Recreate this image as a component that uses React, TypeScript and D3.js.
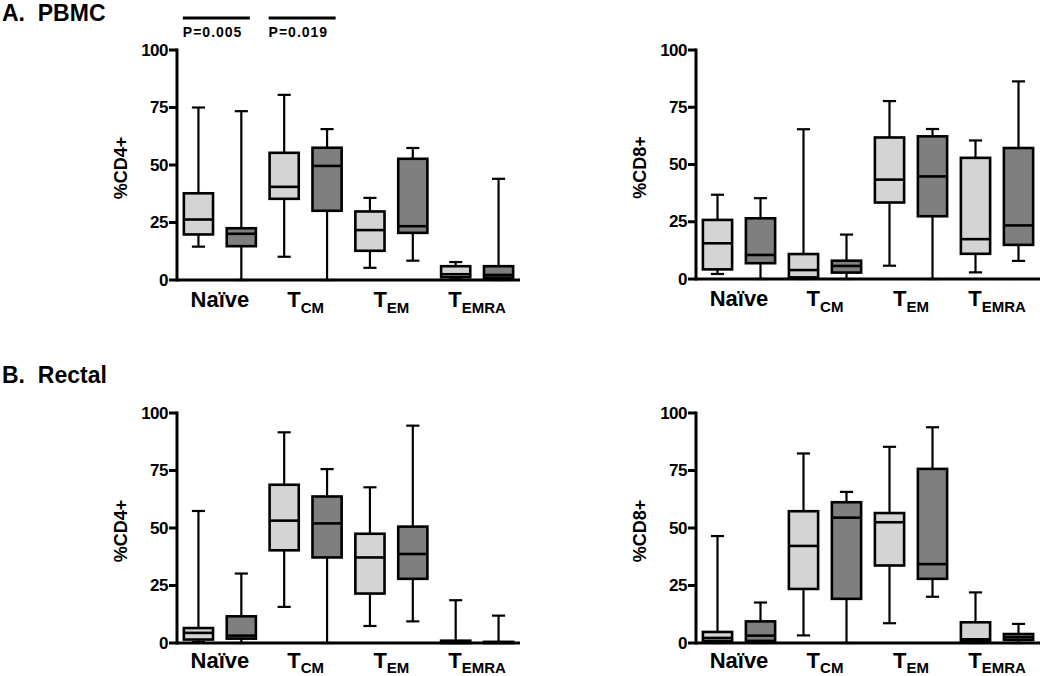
import React from "react";
import * as d3 from "d3";

// Each box: [min, q1, median, q3, max]; order: Naïve(light,dark), TCM(light,dark), TEM(light,dark), TEMRA(light,dark)
const categories = ["Naïve", "CM", "EM", "EMRA"];
const yTicks = [0, 25, 50, 75, 100];

const pbmcCD4 = [
  [14.5, 19.8, 26.3, 37.7, 75],
  [0, 14.7, 20.1, 22.5, 73.4],
  [10.1, 35.3, 40.5, 55.3, 80.5],
  [0, 30.1, 49.6, 57.5, 65.6],
  [5.3, 12.7, 21.7, 29.8, 35.7],
  [8.4, 20.5, 23.4, 52.7, 57.4],
  [0.3, 1.2, 2.5, 6, 7.8],
  [0, 1, 2.2, 6, 44],
];
const pbmcCD8 = [
  [2.2, 4.2, 15.6, 25.8, 36.8],
  [0, 6.9, 10.5, 26.5, 35.3],
  [0, 0.7, 3.9, 10.9, 65.4],
  [0, 2.8, 5.7, 8, 19.4],
  [5.8, 33.4, 43.4, 61.8, 77.7],
  [0, 27.4, 44.8, 62.3, 65.5],
  [2.9, 11, 17.4, 52.9, 60.5],
  [7.9, 14.9, 23.4, 57.2, 86.3],
];
const rectalCD4 = [
  [0.4, 1.5, 4.4, 6.5, 57.4],
  [0, 1.9, 3.2, 11.6, 30.2],
  [15.7, 40.3, 53.2, 68.8, 91.6],
  [0, 37.2, 52, 63.7, 75.6],
  [7.4, 21.5, 37.2, 47.5, 67.7],
  [9.4, 27.9, 38.7, 50.6, 94.5],
  [0, 0, 0.3, 1, 18.6],
  [0, 0, 0.2, 0.5, 11.9],
];
const rectalCD8 = [
  [0, 0.9, 2.2, 4.8, 46.5],
  [0, 0.9, 3.2, 9.4, 17.6],
  [3.3, 23.5, 42.2, 57.3, 82.4],
  [0, 19.2, 54.5, 61.2, 65.7],
  [8.6, 33.7, 52.5, 56.5, 85.3],
  [20.1, 27.9, 34.3, 75.7, 93.8],
  [0, 0.9, 1.6, 9, 22],
  [0, 1.3, 2.5, 3.9, 8.3],
];
const groupColors = ["#d4d4d4", "#7f7f7f"];
const pValues = ["P=0.005", "P=0.019"];

const FONT = "'Liberation Sans', Arial, sans-serif";

type PanelProps = {
  data: number[][];
  x0: number;
  x1: number;
  yTop: number;
  yBottom: number;
  yLabel: string;
  labelOffset: number;
  subDy: number;
  showP?: boolean;
};

function Panel({ data, x0, x1, yTop, yBottom, yLabel, labelOffset, subDy, showP }: PanelProps) {
  const x = d3
    .scaleBand<number>()
    .domain(d3.range(data.length))
    .range([x0, x1]);
  const y = d3.scaleLinear().domain([0, 100]).range([yBottom, yTop]);
  const bw = x.bandwidth();
  const boxW = bw * 0.68;
  const capW = boxW * 0.45;

  return (
    <g fontFamily={FONT} fontWeight="bold">
      {/* axes */}
      <line x1={x0} x2={x0} y1={y(100) - 1.5} y2={y(0) + 1.5} stroke="#000" strokeWidth={3} />
      <line x1={x0} x2={x1} y1={y(0)} y2={y(0)} stroke="#000" strokeWidth={3} />
      {yTicks.map((t) => (
        <g key={t}>
          <line x1={x0 - 8} x2={x0} y1={y(t)} y2={y(t)} stroke="#000" strokeWidth={3} />
          <text
            x={x0 - 9}
            y={y(t)}
            textAnchor="end"
            dominantBaseline="central"
            fontSize={17}
            letterSpacing={-0.5}
          >
            {t}
          </text>
        </g>
      ))}
      <text
        transform={`translate(${x0 - 50},${(y(0) + y(100)) / 2 + 3}) rotate(-90)`}
        textAnchor="middle"
        fontSize={18}
      >
        {yLabel}
      </text>
      {/* boxes */}
      {data.map((d, i) => {
        const cx = (x(i) as number) + bw / 2;
        const [mn, q1, md, q3, mx] = d;
        return (
          <g key={i}>
            <line x1={cx} x2={cx} y1={y(mx)} y2={y(q3)} stroke="#000" strokeWidth={2.2} />
            <line x1={cx} x2={cx} y1={y(q1)} y2={y(mn)} stroke="#000" strokeWidth={2.2} />
            <line x1={cx - capW / 2} x2={cx + capW / 2} y1={y(mx)} y2={y(mx)} stroke="#000" strokeWidth={2.2} />
            <line x1={cx - capW / 2} x2={cx + capW / 2} y1={y(mn)} y2={y(mn)} stroke="#000" strokeWidth={2.2} />
            <rect
              x={cx - boxW / 2}
              y={y(q3)}
              width={boxW}
              height={Math.max(0.5, y(q1) - y(q3))}
              fill={groupColors[i % 2]}
              stroke="#000"
              strokeWidth={2.6}
            />
            <line x1={cx - boxW / 2} x2={cx + boxW / 2} y1={y(md)} y2={y(md)} stroke="#000" strokeWidth={2.6} />
          </g>
        );
      })}
      {/* category labels */}
      {categories.map((c, k) => {
        const cx = x0 + bw * (2 * k + 1);
        const ty = y(0) + labelOffset;
        if (k === 0) {
          return (
            <text key={c} x={cx} y={ty} textAnchor="middle" fontSize={22}>
              {c}
            </text>
          );
        }
        return (
          <text key={c} x={cx} y={ty} textAnchor="middle" fontSize={22}>
            T
            <tspan fontSize={15} dy={subDy}>
              {c}
            </tspan>
          </text>
        );
      })}
      {showP &&
        pValues.map((p, k) => {
          const a = (x(2 * k) as number) + bw / 2 - boxW / 2 - 1;
          const b = (x(2 * k + 1) as number) + bw / 2 + boxW / 2 - 6;
          return (
            <g key={p}>
              <line x1={a} x2={b} y1={yTop - 32} y2={yTop - 32} stroke="#000" strokeWidth={3} />
              <text x={a} y={yTop - 13} fontSize={14} letterSpacing={1}>
                {p}
              </text>
            </g>
          );
        })}
    </g>
  );
}

export default function App() {
  return (
    <svg
      width={1050}
      height={676}
      style={{ position: "absolute", left: 0, top: 0, background: "#fff" }}
    >
      <rect width={1050} height={676} fill="#fff" />
      <text x={2} y={21} fontFamily={FONT} fontWeight="bold" fontSize={23}>
        A.{"\u00a0\u00a0"}PBMC
      </text>
      <text x={2} y={383} fontFamily={FONT} fontWeight="bold" fontSize={23}>
        B.{"\u00a0\u00a0"}Rectal
      </text>
      <Panel data={pbmcCD4} x0={177} x1={520} yTop={50} yBottom={280} yLabel="%CD4+" labelOffset={27} subDy={6} showP />
      <Panel data={pbmcCD8} x0={696} x1={1040} yTop={50} yBottom={279} yLabel="%CD8+" labelOffset={27} subDy={6} />
      <Panel data={rectalCD4} x0={177} x1={520} yTop={413} yBottom={643} yLabel="%CD4+" labelOffset={25} subDy={5} />
      <Panel data={rectalCD8} x0={696} x1={1040} yTop={413} yBottom={643} yLabel="%CD8+" labelOffset={25} subDy={5} />
    </svg>
  );
}
